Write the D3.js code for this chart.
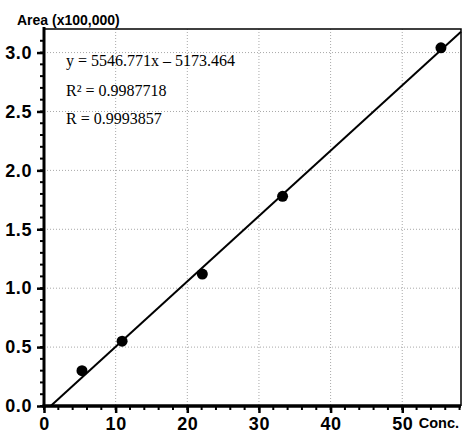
<!DOCTYPE html>
<html>
<head>
<meta charset="utf-8">
<script src="https://cdn.jsdelivr.net/npm/d3@7"></script>
<style>
  body { margin: 0; background: #fff; }
  svg { display: block; }
</style>
</head>
<body>
<div id="chart"></div>
<script>
"use strict";

// concentration vs peak area (area in units of 100,000)
var conc = [5.3, 10.9, 22.1, 33.3, 55.4];
var area = [0.30, 0.55, 1.12, 1.78, 3.04];

var xTicks = [0, 10, 20, 30, 40, 50];
var yTicks = [0.0, 0.5, 1.0, 1.5, 2.0, 2.5, 3.0];

// fit reported in raw units: y = 5546.771x - 5173.464
var slope = 5546.771;
var intercept = -5173.464;
var fitLines = ["y = 5546.771x \u2013 5173.464", "R\u00b2 = 0.9987718", "R = 0.9993857"];

var width = 462, height = 435;
var pLeft = 44, pTop = 29, pRight = 461, pBottom = 406;

var svg = d3.select('#chart').append('svg')
  .attr('width', width)
  .attr('height', height);

var x = d3.scaleLinear().domain([0, 58.2]).range([pLeft, pRight]);
var y = d3.scaleLinear().domain([0, 3.2]).range([pBottom, pTop]);

var tickFont = 'Liberation Sans, Arial, sans-serif';

// grid
svg.selectAll('.gx')
  .data(xTicks.filter(function(d) { return d > 0; }))
  .enter().append('line')
  .attr('x1', function(d) { return x(d); })
  .attr('x2', function(d) { return x(d); })
  .attr('y1', pTop)
  .attr('y2', pBottom)
  .attr('stroke', '#a8a8a8')
  .attr('stroke-width', 1)
  .attr('stroke-dasharray', '1,2');

svg.selectAll('.gy')
  .data(yTicks.filter(function(d) { return d > 0; }))
  .enter().append('line')
  .attr('x1', pLeft)
  .attr('x2', pRight)
  .attr('y1', function(d) { return y(d); })
  .attr('y2', function(d) { return y(d); })
  .attr('stroke', '#a8a8a8')
  .attr('stroke-width', 1)
  .attr('stroke-dasharray', '1,2');

// top and right frame
svg.append('path')
  .attr('d', 'M' + pLeft + ',' + pTop + 'H' + pRight + 'V' + pBottom)
  .attr('fill', 'none')
  .attr('stroke', '#000')
  .attr('stroke-width', 1.5);

// minor ticks
var yMinor = d3.range(0, 32).map(function(i) { return i / 10; });
var xMinor = d3.range(0, 30).map(function(i) { return i * 2; });

svg.selectAll('.ym')
  .data(yMinor)
  .enter().append('line')
  .attr('x1', pLeft - 4)
  .attr('x2', pLeft)
  .attr('y1', function(d) { return y(d); })
  .attr('y2', function(d) { return y(d); })
  .attr('stroke', '#000')
  .attr('stroke-width', 2);

svg.selectAll('.xm')
  .data(xMinor)
  .enter().append('line')
  .attr('x1', function(d) { return x(d); })
  .attr('x2', function(d) { return x(d); })
  .attr('y1', pBottom)
  .attr('y2', pBottom + 4)
  .attr('stroke', '#000')
  .attr('stroke-width', 2);

// axes
var yAxis = svg.append('g')
  .attr('transform', 'translate(' + pLeft + ',0)')
  .call(d3.axisLeft(y).tickValues(yTicks).tickFormat(d3.format('.1f')).tickSize(7).tickPadding(5));

var xAxis = svg.append('g')
  .attr('transform', 'translate(0,' + pBottom + ')')
  .call(d3.axisBottom(x).tickValues(xTicks).tickFormat(d3.format('d')).tickSize(7).tickPadding(4));

[yAxis, xAxis].forEach(function(g) {
  g.select('.domain').remove();
  g.selectAll('.tick line').attr('stroke', '#000').attr('stroke-width', 2.5);
  g.selectAll('text')
    .attr('fill', '#000')
    .style('font-family', tickFont)
    .style('font-weight', 'bold')
    .style('font-size', '18px')
    .style('letter-spacing', '0.6px');
});

svg.append('line')
  .attr('x1', pLeft).attr('x2', pLeft)
  .attr('y1', pTop - 2).attr('y2', pBottom + 1.5)
  .attr('stroke', '#000').attr('stroke-width', 3);

svg.append('line')
  .attr('x1', pLeft - 1.5).attr('x2', pRight)
  .attr('y1', pBottom).attr('y2', pBottom)
  .attr('stroke', '#000').attr('stroke-width', 3.5);

// regression line
var x0 = -intercept / slope;
var fit = [x0, x.domain()[1]].map(function(c) {
  return [c, (slope * c + intercept) / 100000];
});

svg.append('path')
  .datum(fit)
  .attr('d', d3.line()
    .x(function(d) { return x(d[0]); })
    .y(function(d) { return y(d[1]); }))
  .attr('fill', 'none')
  .attr('stroke', '#000')
  .attr('stroke-width', 2);

// points
svg.selectAll('.pt')
  .data(conc)
  .enter().append('circle')
  .attr('cx', function(d) { return x(d); })
  .attr('cy', function(d, i) { return y(area[i]); })
  .attr('r', 5.5)
  .attr('fill', '#000');

// fit text
svg.selectAll('.fit')
  .data(fitLines)
  .enter().append('text')
  .attr('x', 66)
  .attr('y', function(d, i) { return [66, 96, 124][i]; })
  .style('font-family', 'Liberation Serif, Times New Roman, serif')
  .style('font-size', '16px')
  .attr('fill', '#000')
  .text(function(d) { return d; });

// axis titles
svg.append('text')
  .attr('x', 17)
  .attr('y', 25)
  .style('font-family', tickFont)
  .style('font-weight', 'bold')
  .style('font-size', '14px')
  .text('Area (x100,000)');

svg.append('text')
  .attr('x', 459)
  .attr('y', 428)
  .attr('text-anchor', 'end')
  .style('font-family', tickFont)
  .style('font-weight', 'bold')
  .style('font-size', '14.5px')
  .text('Conc.');
</script>
</body>
</html>
